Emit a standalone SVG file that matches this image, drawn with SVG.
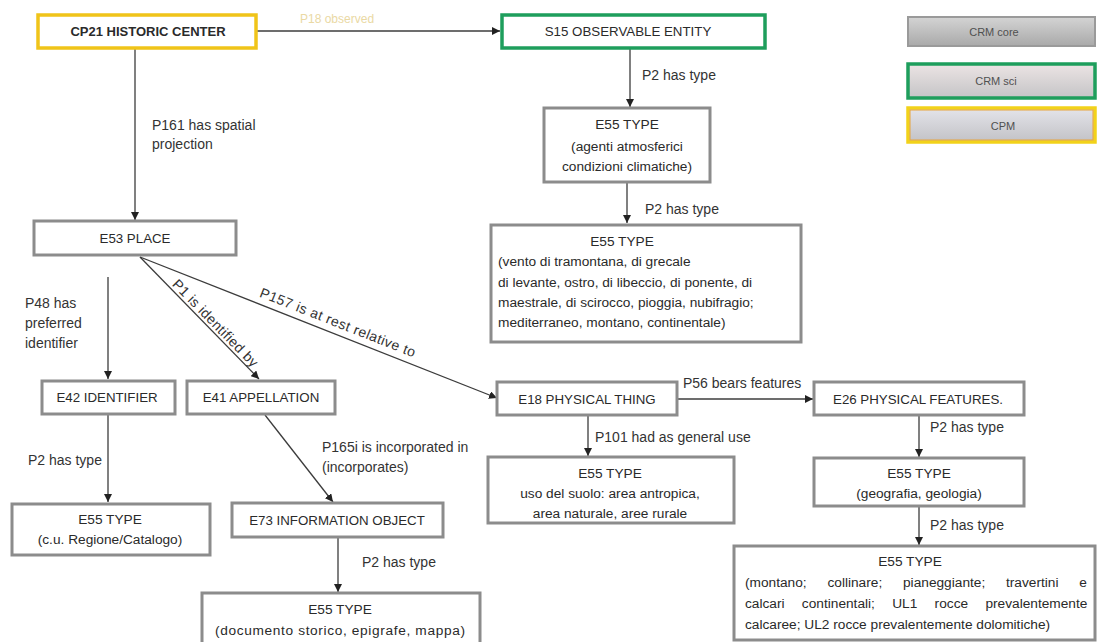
<svg xmlns="http://www.w3.org/2000/svg" width="1097" height="642" viewBox="0 0 1097 642">
  <defs>
    <marker id="arrow" viewBox="0 0 10 10" refX="10" refY="5" markerWidth="8" markerHeight="8" markerUnits="userSpaceOnUse" orient="auto">
      <path d="M0,0 L10,5 L0,10 z" fill="#222"/>
    </marker>
    <linearGradient id="gCore" x1="0" y1="0" x2="0" y2="1">
      <stop offset="0" stop-color="#d4d4d4"/>
      <stop offset="1" stop-color="#a9a9a9"/>
    </linearGradient>
    <linearGradient id="gSci" x1="0" y1="0" x2="0" y2="1">
      <stop offset="0" stop-color="#ece4e4"/>
      <stop offset="1" stop-color="#c4c4c6"/>
    </linearGradient>
    <linearGradient id="gCpm" x1="0" y1="0" x2="0" y2="1">
      <stop offset="0" stop-color="#e4e4ea"/>
      <stop offset="1" stop-color="#c2c2c6"/>
    </linearGradient>
  </defs>
  <style>
    text { font-family: "Liberation Sans", Arial, sans-serif; fill: #2a2a2a; }
    .box { fill: #ffffff; stroke: #8c8c8c; stroke-width: 3; }
    .cpm { fill: #ffffff; stroke: #f0c419; stroke-width: 3.5; }
    .sci { fill: #ffffff; stroke: #1e9e5c; stroke-width: 3.5; }
    .title { font-size: 13.3px; text-anchor: middle; }
    .bold { font-weight: bold; font-size: 13px; }
    .val { font-size: 13.7px; }
    .mid { text-anchor: middle; }
    .lbl { font-size: 14px; fill: #333; }
    .edge { stroke: #3c3c3c; stroke-width: 1.3; fill: none; marker-end: url(#arrow); }
    .leg { font-size: 11px; text-anchor: middle; fill: #505050; }
  </style>

  <rect width="1097" height="642" fill="#ffffff"/>

  <!-- connectors and their labels -->
  <g id="connectors">
    <line class="edge" x1="256" y1="31" x2="500" y2="31"/>
    <text x="300" y="23" style="font-size:12px; fill:#ead9a4">P18 observed</text>

    <line class="edge" x1="135" y1="49" x2="135" y2="220"/>
    <text class="lbl" x="152" y="130">P161 has spatial</text>
    <text class="lbl" x="152" y="149">projection</text>

    <line class="edge" x1="630" y1="49" x2="630" y2="107"/>
    <text class="lbl" x="642" y="80">P2 has type</text>

    <line class="edge" x1="627" y1="183" x2="627" y2="223"/>
    <text class="lbl" x="645" y="214">P2 has type</text>

    <line class="edge" x1="108" y1="277" x2="108" y2="379"/>
    <text class="lbl" x="25" y="308">P48 has</text>
    <text class="lbl" x="25" y="328">preferred</text>
    <text class="lbl" x="25" y="348">identifier</text>

    <line class="edge" x1="140" y1="257" x2="259" y2="379"/>
    <text class="lbl" transform="translate(140,257) rotate(45.7)" x="42" y="-3" textLength="116" lengthAdjust="spacing">P1 is identified by</text>

    <line class="edge" x1="140" y1="257" x2="497" y2="398"/>
    <text class="lbl" transform="translate(140,257) rotate(21.55)" x="125" y="-7" textLength="166" lengthAdjust="spacing">P157  is at rest relative to</text>

    <line class="edge" x1="108" y1="415" x2="108" y2="502"/>
    <text class="lbl" x="28" y="465">P2 has type</text>

    <line class="edge" x1="265" y1="415" x2="333" y2="502"/>
    <text class="lbl" x="322" y="452">P165i is incorporated in</text>
    <text class="lbl" x="322" y="472">(incorporates)</text>

    <line class="edge" x1="338" y1="538" x2="338" y2="592"/>
    <text class="lbl" x="362" y="567">P2 has type</text>

    <line class="edge" x1="678" y1="399" x2="813" y2="399"/>
    <text class="lbl" x="683" y="388">P56 bears features</text>

    <line class="edge" x1="588" y1="416" x2="588" y2="456"/>
    <text class="lbl" x="595" y="442">P101 had as general use</text>

    <line class="edge" x1="919" y1="416" x2="919" y2="457"/>
    <text class="lbl" x="930" y="432">P2 has type</text>

    <line class="edge" x1="919" y1="507" x2="919" y2="545"/>
    <text class="lbl" x="930" y="530">P2 has type</text>
  </g>

  <!-- legend -->
  <g id="legend-core">
    <rect x="908" y="17" width="187" height="29" fill="url(#gCore)" stroke="#9a9a9a" stroke-width="2"/>
    <text class="leg" x="994" y="36">CRM core</text>
  </g>
  <g id="legend-sci">
    <rect x="908" y="64" width="187" height="34" fill="url(#gSci)" stroke="#1e9e5c" stroke-width="3.5"/>
    <text class="leg" x="996" y="85">CRM sci</text>
  </g>
  <g id="legend-cpm">
    <rect x="908" y="108" width="187" height="34" fill="url(#gCpm)" stroke="#f2d21a" stroke-width="3.5"/>
    <rect x="910" y="110" width="183" height="30" fill="none" stroke="#e8a33a" stroke-width="1"/>
    <text class="leg" x="1003" y="130">CPM</text>
  </g>

  <!-- nodes -->
  <g id="cp21">
    <rect class="cpm" x="38" y="15" width="218" height="33"/>
    <text class="title bold" x="148" y="36">CP21 HISTORIC CENTER</text>
  </g>
  <g id="s15">
    <rect class="sci" x="502" y="15" width="263" height="33"/>
    <text class="title" x="628" y="36">S15 OBSERVABLE ENTITY</text>
  </g>
  <g id="e55-agenti">
    <rect class="box" x="544" y="108" width="166" height="74"/>
    <text class="val mid" x="627" y="129">E55 TYPE</text>
    <text class="val mid" x="627" y="151">(agenti atmosferici</text>
    <text class="val mid" x="627" y="171">condizioni climatiche)</text>
  </g>
  <g id="e55-vento">
    <rect class="box" x="491" y="225" width="310" height="117"/>
    <text class="val mid" x="622" y="246">E55 TYPE</text>
    <text class="val" x="498" y="266">(vento di tramontana, di grecale</text>
    <text class="val" x="498" y="287">di levante,  ostro, di libeccio, di ponente, di</text>
    <text class="val" x="498" y="307">maestrale, di scirocco, pioggia, nubifragio;</text>
    <text class="val" x="498" y="327">mediterraneo, montano, continentale)</text>
  </g>
  <g id="e53">
    <rect class="box" x="34" y="221" width="202" height="34"/>
    <text class="title" x="135" y="243">E53 PLACE</text>
  </g>
  <g id="e42">
    <rect class="box" x="42" y="381" width="133" height="33"/>
    <text class="title" x="107" y="402">E42 IDENTIFIER</text>
  </g>
  <g id="e41">
    <rect class="box" x="187" y="381" width="148" height="33"/>
    <text class="title" x="261" y="402">E41 APPELLATION</text>
  </g>
  <g id="e55-catalogo">
    <rect class="box" x="12" y="504" width="198" height="51"/>
    <text class="val mid" x="110" y="524">E55 TYPE</text>
    <text class="val mid" x="110" y="544">(c.u. Regione/Catalogo)</text>
  </g>
  <g id="e73">
    <rect class="box" x="232" y="503" width="211" height="34"/>
    <text class="title" x="337" y="525">E73 INFORMATION OBJECT</text>
  </g>
  <g id="e55-documento">
    <rect class="box" x="202" y="593" width="278" height="52"/>
    <text class="val mid" x="340" y="614">E55 TYPE</text>
    <text class="val mid" x="340" y="635" textLength="250" lengthAdjust="spacing">(documento storico, epigrafe, mappa)</text>
  </g>
  <g id="e18">
    <rect class="box" x="497" y="382" width="180" height="33"/>
    <text class="title" x="587" y="404">E18 PHYSICAL THING</text>
  </g>
  <g id="e26">
    <rect class="box" x="814" y="382" width="210" height="33"/>
    <text class="title" x="918" y="404">E26 PHYSICAL FEATURES.</text>
  </g>
  <g id="e55-suolo">
    <rect class="box" x="488" y="457" width="246" height="66"/>
    <text class="val mid" x="610" y="478">E55 TYPE</text>
    <text class="val mid" x="610" y="498">uso del suolo: area antropica,</text>
    <text class="val mid" x="610" y="518">area naturale, aree rurale</text>
  </g>
  <g id="e55-geografia">
    <rect class="box" x="814" y="458" width="210" height="48"/>
    <text class="val mid" x="919" y="478">E55 TYPE</text>
    <text class="val mid" x="919" y="498">(geografia, geologia)</text>
  </g>
  <g id="e55-montano">
    <rect class="box" x="734" y="546" width="361" height="94"/>
    <text class="val mid" x="910" y="566">E55 TYPE</text>
    <text class="val" x="745" y="587" word-spacing="17">(montano; collinare; pianeggiante; travertini e</text>
    <text class="val" x="745" y="608" word-spacing="13.5">calcari continentali; UL1 rocce prevalentemente</text>
    <text class="val" x="745" y="629">calcaree; UL2 rocce prevalentemente dolomitiche)</text>
  </g>
</svg>
